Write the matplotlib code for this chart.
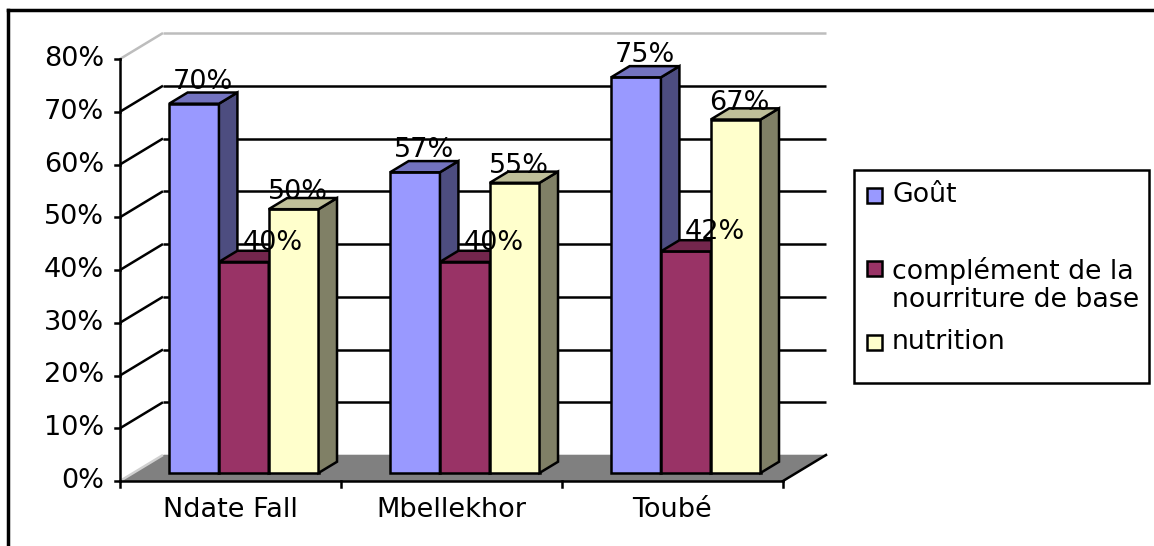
import matplotlib
matplotlib.use("Agg")
import matplotlib.pyplot as plt
from matplotlib.patches import Polygon, Rectangle
from matplotlib.colors import to_rgb

# ---------------- data ----------------
categories = ["Ndate Fall", "Mbellekhor", "Toubé"]
series_names = ["Goût", "complément de la\nnourriture de base", "nutrition"]
gout = [70, 57, 75]
complement = [40, 40, 42]
nutrition = [50, 55, 67]
y_ticks = [0, 10, 20, 30, 40, 50, 60, 70, 80]
y_tick_labels = ["0%", "10%", "20%", "30%", "40%", "50%", "60%", "70%", "80%"]

series_values = [gout, complement, nutrition]
front_colors = ["#9999FF", "#993366", "#FFFFCC"]

# ---------------- style / layout ----------------
plt.rcParams["font.family"] = ["DejaVu Sans"]
FS = 19.5
FS_LEG = 19.3
W_PX, H_PX = 1154, 546
X0_PX, PX_PER_CAT = 120, 221.0          # front axis pixel position, px per category
Y0_PX, PX_PER_PCT = 481, 5.275          # 0% pixel row, px per percent
DX = 43 / PX_PER_CAT                    # depth offset (category units)
DY = 26 / PX_PER_PCT                    # depth offset (percent units)
F0 = 0.31                               # bar front depth fraction
BD = 0.43                               # bar depth fraction
W = 49.8 / PX_PER_CAT                   # bar width
LW = 1.8
n_cat = len(categories)
ymax = y_ticks[-1]

fig = plt.figure(figsize=(W_PX / 100, H_PX / 100), dpi=100)
ax = fig.add_axes([0, 0, 1, 1])
ax.set_xlim(-X0_PX / PX_PER_CAT, (W_PX - X0_PX) / PX_PER_CAT)
ax.set_ylim(-(H_PX - Y0_PX) / PX_PER_PCT, Y0_PX / PX_PER_PCT)
ax.axis("off")


def shade(c, f):
    return tuple(v * f for v in to_rgb(c))


# walls
ax.add_patch(Polygon([(DX, DY), (n_cat + DX, DY), (n_cat + DX, ymax + DY), (DX, ymax + DY)],
                     closed=True, fc="white", ec="none", zorder=0))
ax.add_patch(Polygon([(0, 0), (DX, DY), (DX, ymax + DY), (0, ymax)],
                     closed=True, fc="white", ec="none", zorder=0))
# floor
ax.add_patch(Polygon([(0, 0), (n_cat, 0), (n_cat + DX, DY), (DX, DY)],
                     closed=True, fc="#808080", ec="none", zorder=1))

# gridlines
for v in y_ticks:
    if v == 0:
        col = "#D0D0D0"
    elif v == ymax:
        col = "#BDBDBD"
    else:
        col = "black"
    ax.plot([0, DX], [v, v + DY], color=col, lw=LW, zorder=1.5, solid_capstyle="butt")
    ax.plot([DX, n_cat + DX], [v + DY, v + DY], color=col, lw=LW, zorder=0.5,
            solid_capstyle="butt")

# floor right edge
ax.plot([n_cat, n_cat + DX], [0, DY], color="black", lw=LW, zorder=2)

# front axes
ax.plot([0, 0], [0, ymax], color="black", lw=LW, zorder=20)
ax.plot([0, n_cat], [0, 0], color="black", lw=LW, zorder=20)
tick_len_x = 5 / PX_PER_CAT
tick_len_y = 6 / PX_PER_PCT
for v, lab in zip(y_ticks, y_tick_labels):
    ax.plot([-tick_len_x, 0], [v, v], color="black", lw=LW, zorder=20)
    ax.text(-16 / PX_PER_CAT, v, lab, ha="right", va="center", fontsize=FS)
for i in range(n_cat + 1):
    ax.plot([i, i], [0, -tick_len_y], color="black", lw=LW, zorder=20)
for i, c in enumerate(categories):
    ax.text(i + 0.5, -29 / PX_PER_PCT, c, ha="center", va="center", fontsize=FS)

# bars
lbl_dx = [9 / PX_PER_CAT, 29 / PX_PER_CAT, 4 / PX_PER_CAT]
lbl_dy = [15 / PX_PER_PCT, 12 / PX_PER_PCT, 10 / PX_PER_PCT]
bdx, bdy = BD * DX, BD * DY
base = F0 * DY
for j, (vals, col) in enumerate(zip(series_values, front_colors)):
    z = 3 + j
    xs = [i + 0.5 - 1.5 * W + j * W + F0 * DX for i in range(n_cat)]
    ax.bar(xs, vals, width=W, bottom=base, align="edge", color=col,
           edgecolor="black", linewidth=LW, zorder=z)
    for x0, v in zip(xs, vals):
        x1 = x0 + W
        y1 = base + v
        ax.add_patch(Polygon([(x1, base), (x1 + bdx, base + bdy), (x1 + bdx, y1 + bdy), (x1, y1)],
                             closed=True, fc=shade(col, 0.5), ec="black", lw=LW, zorder=z))
        ax.add_patch(Polygon([(x0, y1), (x1, y1), (x1 + bdx, y1 + bdy), (x0 + bdx, y1 + bdy)],
                             closed=True, fc=shade(col, 0.75), ec="black", lw=LW, zorder=z))
        ax.text(x0 + W / 2 + lbl_dx[j], y1 + lbl_dy[j], f"{v}%", ha="center",
                va="baseline", fontsize=FS, zorder=10)


# legend (figure pixel coordinates)
def fx(x):
    return x / W_PX


def fy(y):
    return 1 - y / H_PX


fig.patches.append(Rectangle((fx(854), fy(383)), fx(1149) - fx(854), fy(170) - fy(383),
                             transform=fig.transFigure, fc="white", ec="black", lw=LW))
leg_marker_y = [195, 268, 342]
leg_text_y = [195, 285, 342]
for name, col, my, ty in zip(series_names, front_colors, leg_marker_y, leg_text_y):
    fig.patches.append(Rectangle((fx(867), fy(my + 7.5)), fx(15), 15 / H_PX,
                                 transform=fig.transFigure, fc=col, ec="black", lw=LW))
    fig.text(fx(892), fy(ty), name, ha="left", va="center", fontsize=FS_LEG, linespacing=1.08)

# outer border (top and left visible)
fig.add_artist(plt.Line2D([fx(8), 1], [fy(10), fy(10)], transform=fig.transFigure,
                          color="black", lw=2.5))
fig.add_artist(plt.Line2D([fx(8), fx(8)], [fy(10), 0], transform=fig.transFigure,
                          color="black", lw=2.5))

fig.savefig("out.png", dpi=100)
